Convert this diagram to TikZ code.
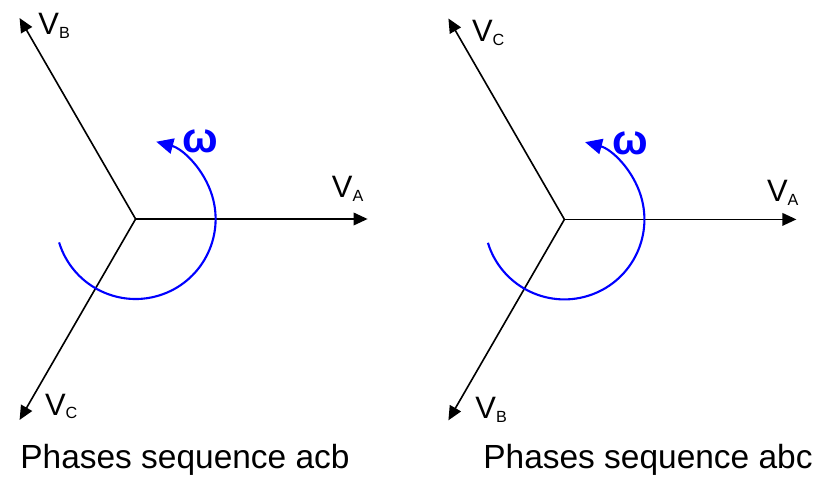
\documentclass[tikz,border=0pt]{standalone}
\usepackage{fontspec}
\setmainfont{Liberation Sans}
\usetikzlibrary{arrows.meta}
\tikzset{
  phasor/.style={line width=1.15pt,-{Triangle[length=10pt,width=9pt]}},
  rot/.style={blue,line width=1.5pt,-{Triangle[length=12pt,width=11pt]}},
  vlabel/.style={anchor=base west,inner sep=0pt,font=\fontsize{22}{22}\selectfont},
  omega/.style={blue,inner sep=0pt,font=\fontsize{30}{30}\selectfont},
  caption/.style={anchor=base,inner sep=0pt,font=\fontsize{23.8}{24}\selectfont},
}
\newcommand{\vsub}[1]{V{\fontsize{11.5}{12}\selectfont\raisebox{-2.8pt}{#1}}}
\begin{document}
\begin{tikzpicture}
\useasboundingbox (0,0) rectangle (20.55,11.975);

\coordinate (oL) at (3.39,6.5);
\coordinate (aL) at ([shift={(0:5.8)}]oL);
\coordinate (bL) at ([shift={(120:5.8)}]oL);
\coordinate (cL) at ([shift={(240:5.8)}]oL);
\draw[phasor] (oL) -- (aL);
\draw[phasor] (oL) -- (bL);
\draw[phasor] (oL) -- (cL);
\node[vlabel] (vaL) at ([shift={(4.9,0.525)}]oL) {\vsub{A}};
\node[vlabel] (vbL) at ([shift={(-2.435,4.62)}]oL) {\vsub{B}};
\node[vlabel] (vcL) at ([shift={(-2.27,-4.9)}]oL) {\vsub{C}};
\draw[rot] ([shift={(197:2)}]oL) arc[start angle=197,end angle=435,radius=2];
\node[omega] (wL) at ([shift={(1.61,1.93)}]oL) {\textbf{ω}};
\node[caption] (capL) at (4.625,0.275) {Phases sequence acb};

\coordinate (oR) at (14.11,6.49);
\coordinate (aR) at ([shift={(0:5.8)}]oR);
\coordinate (cR) at ([shift={(120:5.8)}]oR);
\coordinate (bR) at ([shift={(240:5.8)}]oR);
\draw[phasor] (oR) -- (aR);
\draw[phasor] (oR) -- (cR);
\draw[phasor] (oR) -- (bR);
\node[vlabel] (vaR) at ([shift={(5.06,0.44)}]oR) {\vsub{A}};
\node[vlabel] (vcR) at ([shift={(-2.315,4.44)}]oR) {\vsub{C}};
\node[vlabel] (vbR) at ([shift={(-2.23,-4.97)}]oR) {\vsub{B}};
\draw[rot] ([shift={(197:2)}]oR) arc[start angle=197,end angle=435,radius=2];
\node[omega] (wR) at ([shift={(1.64,1.9)}]oR) {\textbf{ω}};
\node[caption] (capR) at (16.2,0.275) {Phases sequence abc};
\end{tikzpicture}
\end{document}
